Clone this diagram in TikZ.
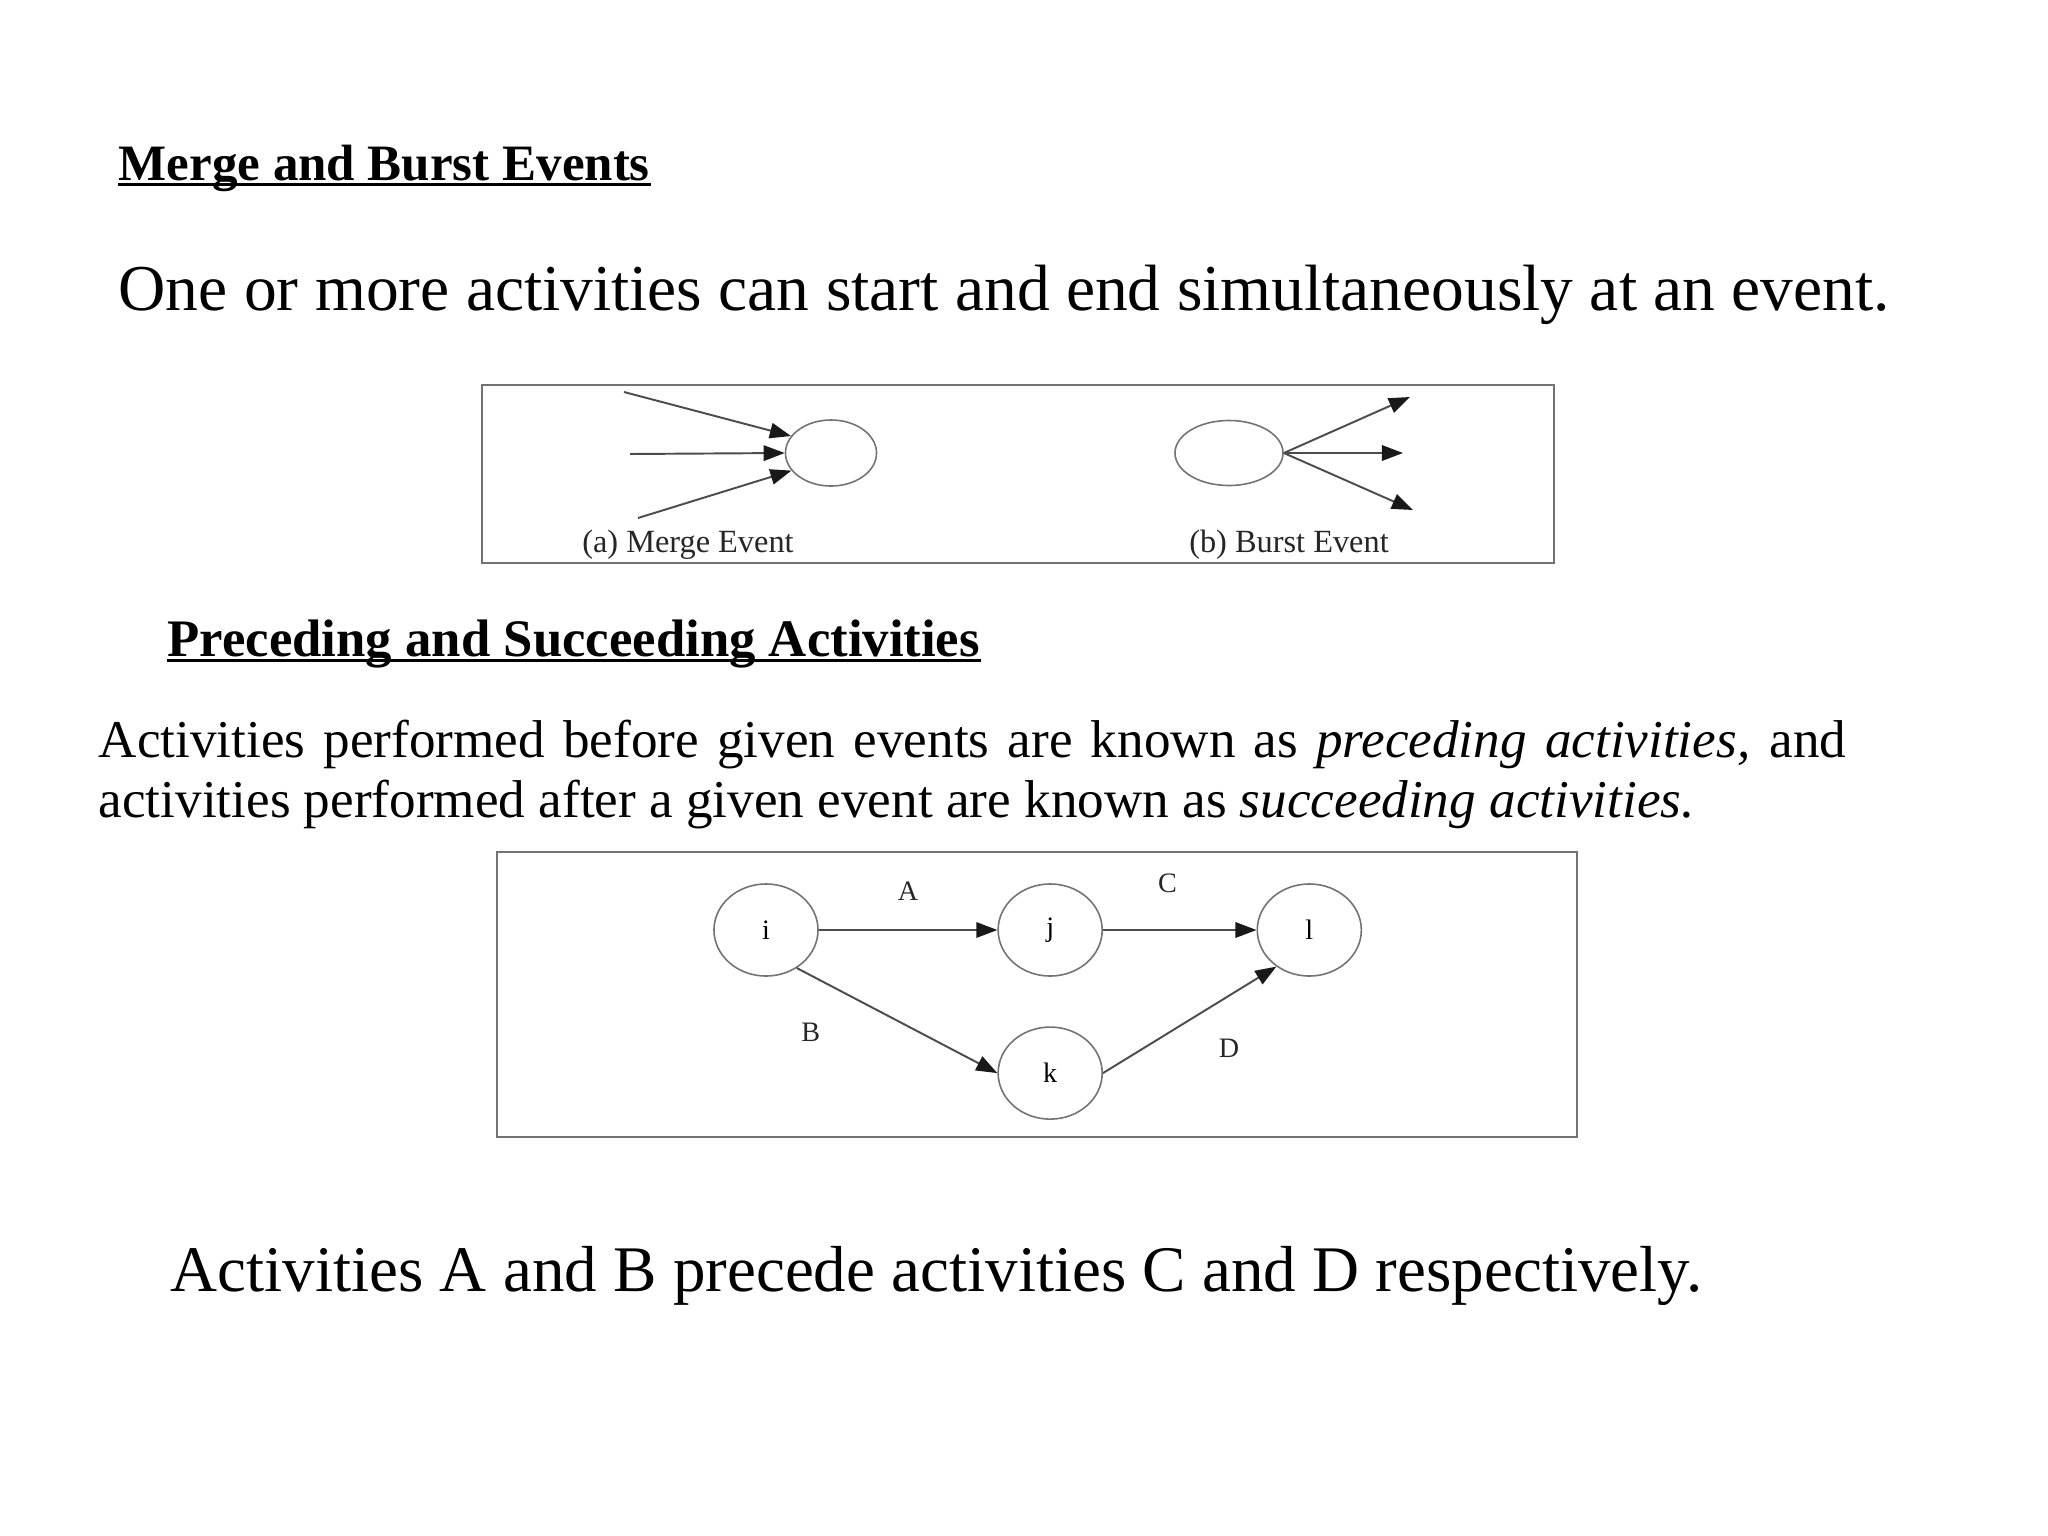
\documentclass[tikz,border=0pt]{standalone}
\usepackage{fontspec}
\setmainfont{Liberation Serif}
\usetikzlibrary{arrows.meta,shapes.geometric}

\tikzset{
  heading/.style={anchor=base west,inner sep=0pt,font=\fontsize{#1}{18}\selectfont\bfseries},
  bigline/.style={anchor=base west,inner sep=0pt,font=\fontsize{#1}{22}\selectfont},
  para/.style={anchor=base west,inner sep=0pt,font=\fontsize{15.12}{18}\selectfont},
  uline/.style={line width=0.9pt},
  panel/.style={draw=black!55,line width=0.8pt},
  event/.style={ellipse,draw=black!55,line width=0.45pt,inner sep=0pt,
    minimum width=1.04cm,minimum height=0.92cm,font=\fontsize{8}{9}\selectfont},
  act/.style={->,draw=black!70,line width=0.55pt},
  lbl/.style={inner sep=0pt,font=\fontsize{8}{9}\selectfont,text=black!85},
  caption/.style={inner sep=0pt,font=\fontsize{9.2}{10}\selectfont,text=black!85}
}

\begin{document}
\begin{tikzpicture}[x=0.01cm,y=-0.01cm,>={Triangle[length=6pt,width=4.4pt,color=black!90]}]
\useasboundingbox (0,0) rectangle (2048,1536);
\fill[white] (0,0) rectangle (2048,1536);

% merge and burst events
\node[heading=14.5] (h1) at (118,180) {Merge and Burst Events};
\draw[uline] ([yshift=-1.2pt]h1.base west) -- ([yshift=-1.2pt]h1.base east);
\node[bigline=18.62] (s1) at (118,310) {One or more activities can start and end simultaneously at an event.};

\draw[panel] (482,385) rectangle (1554,563);
\node[event,minimum width=0.91cm,minimum height=0.66cm] (m) at (831,453) {};
\node[event,minimum width=1.08cm,minimum height=0.65cm] (b) at (1229,453) {};
\coordinate (m1) at (624,392);
\coordinate (m2) at (630,454);
\coordinate (m3) at (638,518);
\coordinate (b1) at (1410,397);
\coordinate (b2) at (1403,453);
\coordinate (b3) at (1413,510);
\draw[act] (m1) -- (m.157);
\draw[act] (m2) -- (m.west);
\draw[act] (m3) -- (m.204);
\draw[act] (b.east) -- (b1);
\draw[act] (b.east) -- (b2);
\draw[act] (b.east) -- (b3);
\node[caption] (capa) at (688,545) {(a) Merge Event};
\node[caption] (capb) at (1289,545) {(b) Burst Event};

% preceding and succeeding activities
\node[heading=15] (h2) at (167,656) {Preceding and Succeeding Activities};
\draw[uline] ([yshift=-1.3pt]h2.base west) -- ([yshift=-1.3pt]h2.base east);
\node[para] (p1) at (98,757) {\makebox[497pt][s]{Activities performed before given events are known as \textit{preceding activities,} and}};
\node[para] (p2) at (98,817) {activities performed after a given event are known as \textit{succeeding activities.}};

\draw[panel] (497,852) rectangle (1577,1137);
\node[event] (i) at (766,930) {i};
\node[event] (j) [right of=i,node distance=2.84cm] {j};
\node[event] (l) [right of=j,node distance=2.59cm] {l};
\node[event] (k) [below of=j,node distance=1.43cm] {k};
\draw[act] (i) -- node[lbl,above=0.29cm] {A} (j);
\draw[act] (j) -- node[lbl,pos=0.42,above=0.36cm] {C} (l);
\draw[act] (i.-51) -- node[lbl,pos=0.615,left=0.99cm] {B} (k.west);
\draw[act] (k.east) -- node[lbl,pos=0.23,right=0.75cm] {D} (l.-132);

\node[bigline=18.5] (s2) at (170,1291) {Activities A and B precede activities C and D respectively.};
\end{tikzpicture}
\end{document}
